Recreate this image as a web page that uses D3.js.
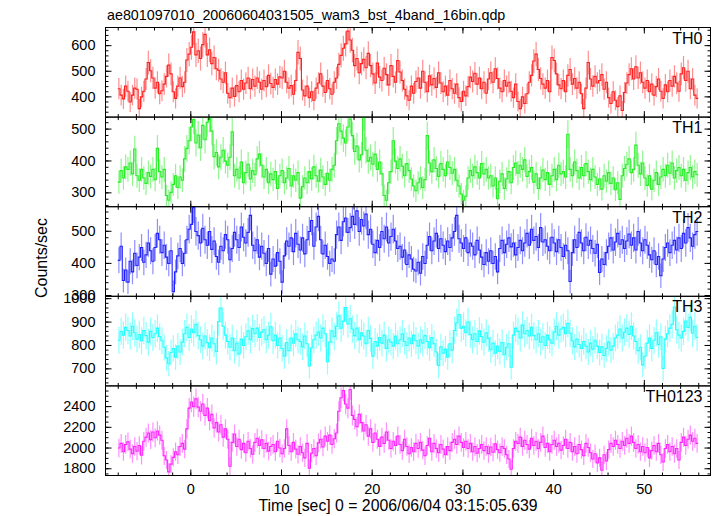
<!DOCTYPE html>
<html><head><meta charset="utf-8">
<script src="https://cdn.jsdelivr.net/npm/d3@7"></script>
<style>body{margin:0;background:#fff}svg{display:block}text{font-family:"Liberation Sans",Arial,Helvetica,sans-serif;fill:#000}</style>
</head><body><svg id="c" width="717" height="516"></svg>
<script>
const titleText = "ae801097010_20060604031505_wam3_bst_4band_16bin.qdp";
const xLabel = "Time [sec] 0 = 2006/06/04 03:15:05.639";
const yLabel = "Counts/sec";
const tStart = -8, binSec = 0.25;
const panelNames = ["TH0","TH1","TH2","TH3","TH0123"];
const panelColors = ["#ff2020","#22ee22","#2020ff","#22ffff","#ff22ff"];
const xDomain = [-9.35, 57.35];
const xMajorTicks = [0,10,20,30,40,50];
const xMinorStep = 2;
const yDomains = [[319,669],[255,536],[296,575],[625,1008],[1730,2595]];
const yMajorTicks = [[400,500,600],[300,400,500],[300,400,500],[700,800,900,1000],[1800,2000,2200,2400]];
const yMinorStep = [20,20,20,20,50];

const th0 = [430,405,390,440, 420,378,405,432, 428,352,398,420, 468,532,500,472, 432,455,410,422, 448,478,522,488, 418,392,440,472, 438,455,542,565,
592,652,562,578, 548,602,642,562, 582,528,552,508, 502,468,455,492, 412,395,432,400, 442,418,462,428, 452,472,430,466, 440,472,455,428,
462,438,482,450, 435,466,448,476, 472,498,455,432, 442,408,462,572, 548,425,402,440, 395,418,385,432, 452,488,440,415, 462,430,408,455,
472,525,560,588, 605,655,620,580, 520,548,492,528, 545,512,568,520, 488,452,530,475, 462,510,485,445, 520,478,455,540, 495,462,428,402,
385,440,412,458, 472,432,498,455, 418,480,445,470, 435,492,452,418, 440,405,462,430, 412,448,395,380, 420,402,438,475, 458,490,448,472,
430,455,412,468, 492,455,508,470, 432,418,462,440, 455,420,395,448, 380,352,398,372, 410,455,482,538, 565,505,470,448, 432,462,418,552,
540,488,445,430, 462,418,482,505, 448,470,432,455, 410,352,432,532, 468,440,478,452, 462,485,428,455, 395,372,418,385, 360,402,345,415,
452,485,508,468, 515,472,492,455, 432,462,418,448, 405,438,468,420, 392,445,418,462, 440,478,452,420, 488,512,462,498, 430,468,405,392];

const th1 = [332,368,345,380, 372,392,358,436, 352,338,372,345, 328,362,350,372, 340,438,365,348, 372,290,275,300, 325,352,315,348, 338,405,438,462,
505,528,455,480, 440,510,465,520, 535,492,412,425, 380,410,432,398, 385,410,490,352, 372,345,395,330, 362,388,342,368, 355,405,420,385,
348,372,330,358, 340,365,312,352, 368,330,345,375, 320,352,338,362, 282,318,345,330, 365,342,380,352, 335,370,348,325, 360,338,372,385,
462,515,492,470, 455,505,530,478, 428,445,402,418, 540,432,398,410, 388,420,372,395, 358,290,275,330, 365,462,398,375, 405,382,352,390,
368,342,320,305, 330,345,315,340, 478,392,365,402, 375,350,390,372, 352,395,378,360, 372,338,320,295, 275,288,345,368, 352,380,362,345,
390,358,372,345, 352,320,345,280, 335,358,312,342, 365,330,378,392, 360,385,372,402, 350,365,378,332, 358,312,345,370, 340,362,325,352,
372,340,385,358, 365,348,482,372, 352,395,368,345, 378,352,390,365, 340,372,348,325, 342,310,352,335, 362,328,345,308, 330,278,352,375,
388,405,362,372, 448,385,358,392, 345,322,352,310, 338,362,325,348, 372,352,385,360, 392,345,368,378, 352,372,338,362, 378,348,365,355];

const th2 = [408,452,345,378, 340,405,372,430, 392,418,448,402, 425,462,438,405, 448,492,472,432, 455,418,398,438, 310,372,422,445, 398,430,472,505,
520,572,498,485, 462,508,472,455, 498,442,468,420, 402,452,438,488, 472,410,445,495, 472,448,512,480, 462,495,548,455, 438,472,418,452,
430,398,445,365, 412,390,432,405, 340,422,468,452, 478,435,492,458, 440,478,428,472, 498,532,452,512, 545,472,428,455, 420,398,412,405,
488,512,470,528, 540,495,510,545, 520,562,498,535, 515,552,488,505, 458,432,470,448, 498,475,512,462, 482,505,468,445, 452,418,440,395,
425,412,380,375, 402,368,420,398, 455,482,438,468, 492,445,475,455, 435,468,448,478, 498,548,475,462, 445,478,432,462, 452,425,470,440,
418,395,432,405, 438,398,420,372, 445,470,432,458, 478,450,462,425, 448,470,438,462, 492,455,505,470, 482,448,510,465, 472,452,438,480,
462,435,472,448, 420,455,438,342, 432,472,448,495, 462,438,480,455, 470,445,430,458, 370,412,395,432, 452,478,440,465, 492,458,472,445,
468,490,455,478, 440,498,462,438, 472,455,425,410, 438,395,420,360, 412,448,462,432, 455,470,440,478, 445,492,462,510, 478,452,488,498];

const th3 = [820,858,842,875, 862,838,880,852, 825,845,818,862, 840,812,858,832, 848,872,835,818, 790,745,720,768, 785,748,795,770, 812,848,875,832,
868,852,888,840, 822,795,838,810, 788,830,805,772, 900,958,880,842, 815,790,830,775, 808,762,825,798, 835,860,822,870, 848,872,832,855,
865,822,842,878, 818,842,798,830, 785,752,810,775, 830,808,848,822, 815,792,838,805, 710,788,822,842, 855,830,872,848, 728,812,860,835,
880,925,872,902, 960,890,912,868, 840,872,822,852, 838,805,862,828, 752,815,795,832, 808,842,785,822, 812,795,838,805, 822,848,815,798,
830,805,842,818, 795,822,808,840, 815,788,832,805, 770,712,792,765, 782,748,805,778, 862,895,930,872, 880,852,898,845, 822,848,815,860,
835,812,852,828, 780,808,765,795, 772,810,758,790, 805,705,842,872, 858,830,885,848, 862,838,875,840, 822,848,812,835, 798,842,822,808,
855,880,842,868, 875,848,892,850, 818,792,825,802, 785,815,795,770, 808,782,820,795, 768,792,755,785, 812,778,795,830, 842,868,830,855,
872,845,880,838, 815,775,790,715, 752,808,830,785, 820,852,802,835, 700,825,848,872, 888,962,865,842, 830,858,902,875, 918,850,880,832];

const th0123 = [1995,2040,1960,2030, 2055,1985,1940,2010, 1965,2020,1925,2060, 2100,2140,2075,2150, 2095,2160,2120,2070, 1920,1880,1765,1840, 1905,1960,1930,2010, 2040,1985,2180,2380,
2440,2395,2470,2390, 2350,2420,2310,2380, 2260,2320,2190,2240, 2150,2220,2100,2180, 2080,1820,2050,2130, 2010,2080,1980,2040, 1950,2060,1990,1935, 2050,2090,2020,2075,
1990,2040,1965,2010, 2030,1960,2060,1995, 1940,1990,2180,2020, 1960,2050,1985,1935, 2010,1950,1900,2040, 1800,1945,1990,1920, 2045,2080,2005,2110, 2060,2120,2030,2085,
2140,2350,2480,2550, 2420,2380,2560,2310, 2270,2200,2320,2240, 2160,2220,2110,2180, 2050,2140,2080,2010, 2100,2040,2150,2070, 1990,2060,2020,2110, 2030,1970,2080,2010,
1940,2000,1960,2040, 1990,2050,1975,1920, 2020,2090,1960,2040, 1990,1950,2030,1985, 1930,2010,1970,2050, 2080,2030,2110,2050, 2000,2060,1990,2040, 1960,2010,1945,1990,
2030,1970,2010,1940, 2005,1955,2035,1980, 1950,2010,1990,1930, 1890,1790,1990,2060, 2040,2100,2010,2070, 2030,1985,2090,2020, 2060,1990,2050,2110, 2000,2040,1960,2030,
2070,2010,2040,1975, 2020,2080,1990,2050, 1960,2010,1940,2030, 1980,1920,2040,2000, 1950,1890,1940,1850, 1900,1780,1930,1870, 1980,2040,2010,2070, 2030,1990,2060,2020,
2090,2040,2110,2050, 1990,2030,1960,2010, 1950,2000,1900,1970, 2020,1960,2040,1930, 1860,1990,2030,1960, 2010,1940,1990,1880, 2050,2100,2020,2080, 2120,2060,2090,2040];

const series = [th0, th1, th2, th3, th0123];

(function draw() {
  const svg = d3.select("#c");
  svg.append("rect").attr("width",717).attr("height",516).attr("fill","#fff");
  const pLeft = 105.5, pRight = 710.5, pTop = 27.5, pBottom = 475.5;
  const ph = (pBottom - pTop) / series.length;
  const x = d3.scaleLinear().domain(xDomain).range([pLeft, pRight]);
  const xMinor = d3.range(-8, 57, xMinorStep);
  const font = '"Liberation Sans",Arial,sans-serif';

  series.forEach((vals, i) => {
    const y0 = pTop + i * ph, y1 = pTop + (i + 1) * ph;
    const y = d3.scaleLinear().domain(yDomains[i]).range([y1, y0]);
    const col = panelColors[i];
    const cid = "clip" + i;
    svg.append("clipPath").attr("id", cid).append("rect")
      .attr("x", pLeft).attr("y", y0).attr("width", pRight - pLeft).attr("height", ph);
    const g = svg.append("g").attr("clip-path", `url(#${cid})`);
    const pts = vals.map((v, j) => ({t: tStart + j * binSec, v: v, e: Math.sqrt(v / binSec)}));
    g.selectAll("line.err").data(pts).join("line").attr("class","err")
      .attr("x1", d => x(d.t + binSec/2)).attr("x2", d => x(d.t + binSec/2))
      .attr("y1", d => y(d.v - d.e)).attr("y2", d => y(d.v + d.e))
      .attr("stroke", col).attr("stroke-opacity", 0.5).attr("stroke-width", 1.2);
    const stepPts = pts.concat([{t: tStart + vals.length * binSec, v: vals[vals.length-1]}]);
    g.append("path").datum(stepPts)
      .attr("d", d3.line().x(d => x(d.t)).y(d => y(d.v)).curve(d3.curveStepAfter))
      .attr("fill","none").attr("stroke", col).attr("stroke-width", 1.1);

    const [lo, hi] = yDomains[i];
    const yMinor = d3.range(Math.ceil(lo / yMinorStep[i]) * yMinorStep[i], hi, yMinorStep[i]);
    const ax = (gen, tx, ty) => {
      const a = svg.append("g").attr("transform", `translate(${tx},${ty})`).call(gen);
      a.select(".domain").remove();
      a.selectAll("line").attr("stroke","#000");
      return a;
    };
    const la = ax(d3.axisLeft(y).tickValues(yMajorTicks[i]).tickSize(-6).tickPadding(10).tickFormat(d3.format("d")), pLeft, 0);
    la.selectAll("text").attr("font-size", 14.5).attr("font-family", font);
    ax(d3.axisLeft(y).tickValues(yMinor).tickSize(-3).tickFormat(""), pLeft, 0);
    ax(d3.axisRight(y).tickValues(yMajorTicks[i]).tickSize(-6).tickFormat(""), pRight, 0);
    ax(d3.axisRight(y).tickValues(yMinor).tickSize(-3).tickFormat(""), pRight, 0);
    ax(d3.axisTop(x).tickValues(xMajorTicks).tickSize(-6).tickFormat(""), 0, y0);
    ax(d3.axisTop(x).tickValues(xMinor).tickSize(-3).tickFormat(""), 0, y0);
    const ba = ax(d3.axisBottom(x).tickValues(xMajorTicks).tickSize(-6).tickPadding(8)
       .tickFormat(i === series.length - 1 ? d3.format("d") : ""), 0, y1);
    ba.selectAll("text").attr("font-size", 14.5).attr("font-family", font);
    ax(d3.axisBottom(x).tickValues(xMinor).tickSize(-3).tickFormat(""), 0, y1);
    svg.append("rect").attr("x", pLeft).attr("y", y0).attr("width", pRight - pLeft).attr("height", ph)
      .attr("fill","none").attr("stroke","#000").attr("stroke-width",1);
    svg.append("text").attr("x", pRight - 8).attr("y", y0 + 16).attr("text-anchor","end")
      .attr("font-size", 16).text(panelNames[i]);
  });

  svg.append("text").attr("x", 107).attr("y", 20).attr("font-size", 14.3).text(titleText);
  svg.append("text").attr("x", 398).attr("y", 511).attr("text-anchor","middle")
    .attr("font-size", 15.8).text(xLabel);
  svg.append("text").attr("transform", "translate(47,258) rotate(-90)").attr("text-anchor","middle")
    .attr("font-size", 16).text(yLabel);
})();
</script></body></html>
